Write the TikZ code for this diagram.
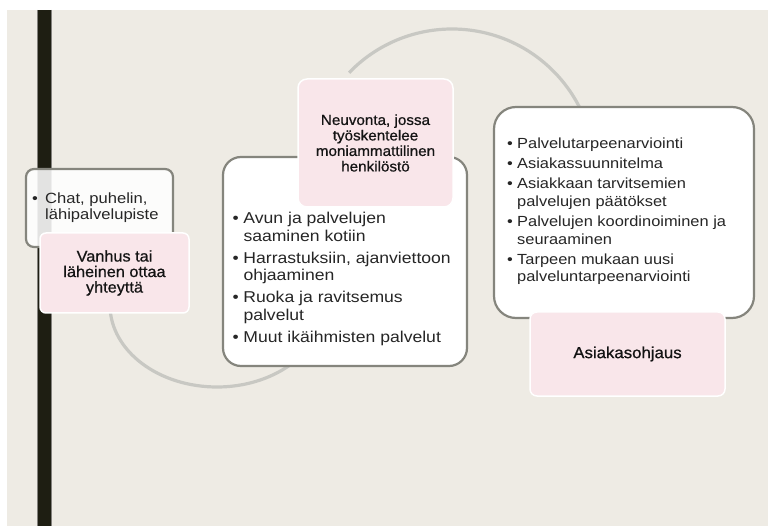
\documentclass[tikz,border=0pt]{standalone}
\usepackage{fontspec}
\usetikzlibrary{calc}
\setmainfont{Liberation Sans}
\newfontfamily\bodyf[FakeStretch=1.12]{Liberation Sans}
\newfontfamily\pinkf[FakeStretch=1.05,FakeBold=0.7]{Liberation Sans}
\definecolor{bgc}{HTML}{EEEBE4}
\definecolor{barc}{HTML}{1E1E12}
\definecolor{pinkc}{HTML}{F9E6EA}
\definecolor{edgec}{HTML}{85857D}
\definecolor{arcc}{HTML}{C8C8C3}
\definecolor{txtc}{HTML}{262626}
\definecolor{ptxtc}{HTML}{141414}
\newcommand\bul[1]{\makebox[#1][l]{\textbullet}}
\tikzset{
  wbox/.style={draw=edgec, line width=2.2pt, fill=white, inner sep=0pt},
  pbox/.style={draw=white, line width=1.5pt, fill=pinkc, inner sep=0pt, align=center, text=ptxtc},
  arcline/.style={draw=arcc, line width=3.2pt},
  btext/.style={anchor=base west, inner sep=0pt, text=txtc}
}
\begin{document}
\begin{tikzpicture}[x=1pt,y=-1pt]
\useasboundingbox (0,0) rectangle (768,526);
\fill[white] (0,0) rectangle (768,526);
\fill[bgc] (7,10) rectangle (767.5,526);
% vertical bar
\fill[barc] (37,10) rectangle (51.5,526);
\draw[line width=0.6pt, black!45!bgc] (37.3,10) -- (37.3,526) (51.2,10) -- (51.2,526);
% arcs
\coordinate (arcA) at ($(217,305)+(185:107 and 82)$);
\coordinate (arcB) at ($(452,172)+(224:143 and 143)$);
\draw[arcline] (arcA) arc[start angle=185, end angle=30, x radius=107, y radius=82];
\draw[arcline] (arcB) arc[start angle=224, end angle=340, x radius=143, y radius=143];
% white boxes
\node[wbox, fill opacity=0.88, rounded corners=8pt, minimum width=147pt, minimum height=78pt] (chatbox) at (99.5,208) {};
\node[wbox, rounded corners=18pt, minimum width=244pt, minimum height=209pt] (midbox) at (345,261.5) {};
\node[wbox, rounded corners=22pt, minimum width=260pt, minimum height=211pt] (rightbox) at (624,212.5) {};
% pink boxes
\node[pbox, rounded corners=6pt, minimum width=149pt, minimum height=80pt,
      font=\pinkf\fontsize{15.5}{15.5}\selectfont] (vanhus) at (114.5,273)
      {Vanhus tai\\läheinen ottaa\\yhteyttä};
\node[pbox, rounded corners=9pt, minimum width=155pt, minimum height=128pt,
      font=\pinkf\fontsize{14.5}{15.5}\selectfont] (neuvonta) at (375.5,143)
      {Neuvonta, jossa\\työskentelee\\moniammattilinen\\henkilöstö};
\node[pbox, rounded corners=7pt, minimum width=195pt, minimum height=84pt,
      font=\pinkf\fontsize{16}{16}\selectfont] (asiakas) at (627.5,354)
      {Asiakasohjaus};
% texts in white boxes
\node[btext, font=\bodyf\fontsize{14.8}{15}\selectfont] (chattext) at (32,204)
  {\begin{tabular}[t]{@{}l@{}l@{}}
   \bul{13pt} & Chat, puhelin,\\
   & lähipalvelupiste
   \end{tabular}};
\node[btext, font=\bodyf\fontsize{15.7}{17.7}\selectfont] (midtext) at (232.3,223.5)
  {\begin{tabular}[t]{@{}l@{}l@{}}
   \bul{11pt} & Avun ja palvelujen\\
   & saaminen kotiin\\[4.3pt]
   \bul{11pt} & Harrastuksiin,\hspace{5pt}ajanviettoon\\
   & ohjaaminen\\[4.3pt]
   \bul{11pt} & Ruoka ja ravitsemus\\
   & palvelut\\[4.3pt]
   \bul{11pt} & Muut ikäihmisten palvelut
   \end{tabular}};
\node[btext, font=\bodyf\fontsize{14.65}{17.8}\selectfont] (righttext) at (507,149)
  {\begin{tabular}[t]{@{}l@{}l@{}}
   \bul{10pt} & Palvelutarpeenarviointi\\[2.1pt]
   \bul{10pt} & Asiakassuunnitelma\\[2.1pt]
   \bul{10pt} & Asiakkaan tarvitsemien\\
   & palvelujen päätökset\\[2.1pt]
   \bul{10pt} & Palvelujen koordinoiminen ja\\
   & seuraaminen\\[2.1pt]
   \bul{10pt} & Tarpeen mukaan uusi\\
   & palveluntarpeenarviointi
   \end{tabular}};
\end{tikzpicture}
\end{document}
